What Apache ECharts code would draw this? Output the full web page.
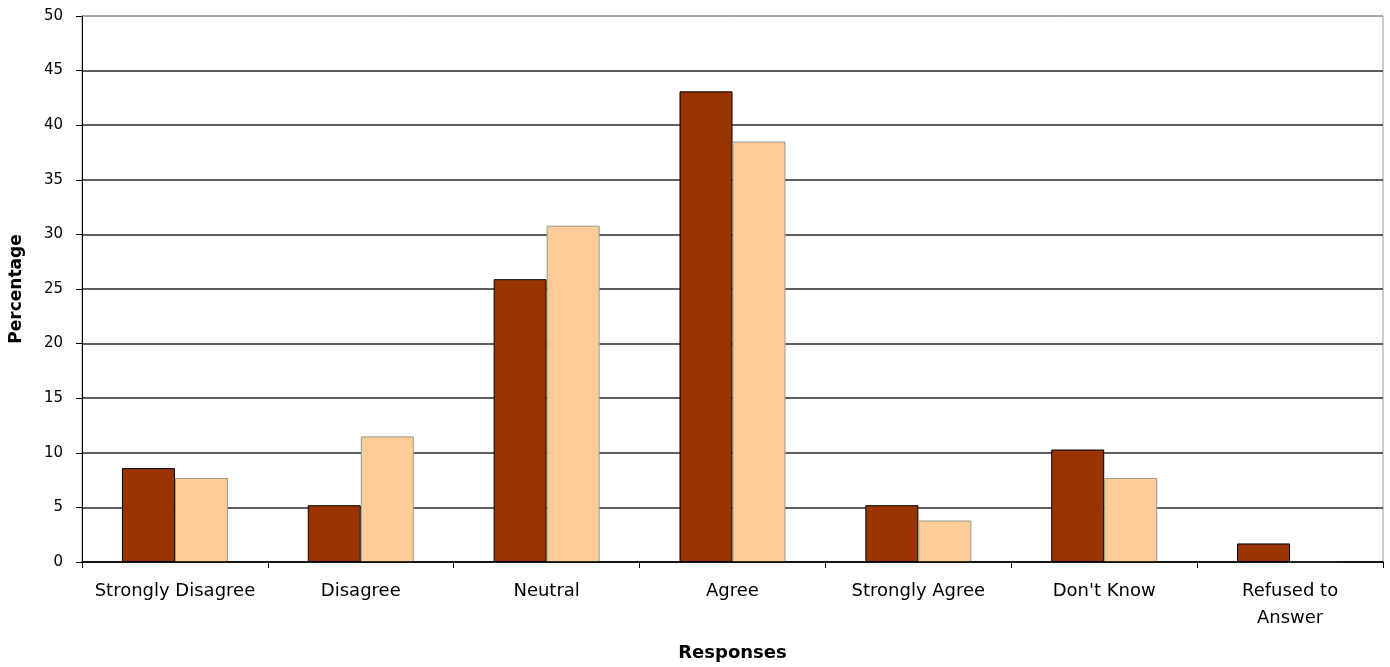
<!DOCTYPE html>
<html>
<head>
<meta charset="utf-8">
<style>
  html, body { margin: 0; padding: 0; background: #ffffff; }
  #chart { width: 1390px; height: 667px; }
</style>
<script src="https://cdn.jsdelivr.net/npm/echarts@6/dist/echarts.min.js"></script>
</head>
<body>
<div id="chart"></div>
<script>
const categories = ['Strongly Disagree', 'Disagree', 'Neutral', 'Agree', 'Strongly Agree', "Don't Know", 'Refused to\nAnswer'];
const seriesA = [8.6, 5.2, 25.9, 43.1, 5.2, 10.3, 1.7];
const seriesB = [7.7, 11.5, 30.8, 38.5, 3.8, 7.7, 0];
const yTicks = [0, 5, 10, 15, 20, 25, 30, 35, 40, 45, 50];

const chart = echarts.init(document.getElementById('chart'), null, { renderer: 'canvas' });
const gridColors = yTicks.map((v, i) => i === yTicks.length - 1 ? '#9a9a9a' : '#2a2a2a');

chart.setOption({
  backgroundColor: '#ffffff',
  animation: false,
  grid: {
    left: 81, right: 7, top: 16, bottom: 105,
    show: true, borderColor: '#9a9a9a', borderWidth: 1, backgroundColor: 'transparent'
  },
  xAxis: {
    type: 'category',
    data: categories,
    z: 5,
    name: 'Responses',
    nameLocation: 'middle',
    nameGap: 82,
    nameTextStyle: { fontFamily: 'DejaVu Sans', fontWeight: 'bold', fontSize: 18, color: '#000' },
    axisLine: { lineStyle: { color: '#000', width: 1.5 } },
    axisTick: { show: true, length: 6, lineStyle: { color: '#000' } },
    axisLabel: {
      interval: 0,
      margin: 16,
      fontFamily: 'DejaVu Sans',
      fontSize: 18,
      lineHeight: 27,
      color: '#000',
      align: 'center'
    }
  },
  yAxis: {
    type: 'value',
    min: yTicks[0],
    max: yTicks[yTicks.length - 1],
    interval: 5,
    name: 'Percentage',
    nameLocation: 'middle',
    nameGap: 57,
    nameRotate: 90,
    nameTextStyle: { fontFamily: 'DejaVu Sans', fontWeight: 'bold', fontSize: 17, color: '#000' },
    axisLine: { show: true, lineStyle: { color: '#000', width: 1 } },
    axisTick: { show: true, length: 6, lineStyle: { color: '#000' } },
    axisLabel: { margin: 19, fontFamily: 'DejaVu Sans', fontSize: 15, color: '#000' },
    splitLine: { show: true, lineStyle: { color: gridColors, width: 1.5 } }
  },
  series: [
    {
      type: 'bar',
      data: seriesA,
      barWidth: 53,
      barGap: '0%',
      itemStyle: { color: '#993300', borderColor: '#000000', borderWidth: 1 }
    },
    {
      type: 'bar',
      data: seriesB,
      barWidth: 53,
      barGap: '0%',
      itemStyle: { color: '#ffcc99', borderColor: '#8f9c86', borderWidth: 1 }
    }
  ]
});
</script>
</body>
</html>
